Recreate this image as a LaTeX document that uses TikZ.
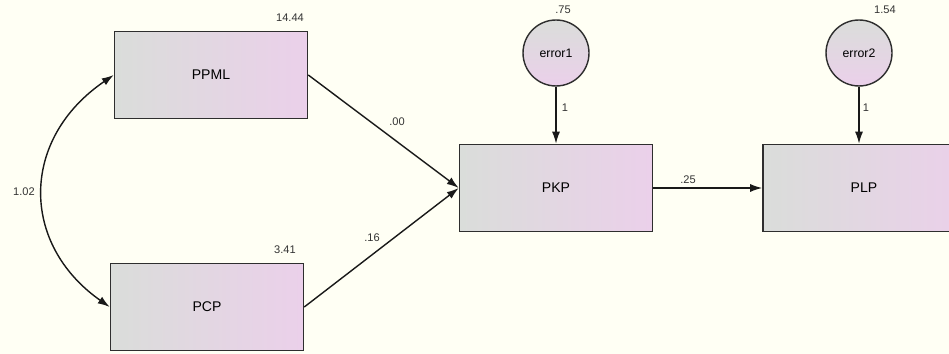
\documentclass[tikz,border=0pt]{standalone}
\usepackage{fontspec}
\setmainfont{Liberation Sans}
\usetikzlibrary{arrows.meta}
\definecolor{fondo}{HTML}{FFFFF4}
\definecolor{gris}{HTML}{DADDDA}
\definecolor{rosa}{HTML}{EBD0EA}
\definecolor{borde}{HTML}{2E2E2E}
\tikzset{
  caja/.style={draw=borde, line width=0.9pt, left color=gris, right color=rosa,
    minimum width=3.86cm, minimum height=1.74cm, font=\fontsize{8}{9}\selectfont},
  error/.style={circle, draw=borde, line width=0.8pt, top color=gris, bottom color=rosa,
    minimum size=1.32cm, inner sep=0pt, font=\fontsize{7}{8}\selectfont},
  valor/.style={font=\fontsize{6.3}{7}\selectfont, text=black!80},
  flecha/.style={-{Latex[length=0.24cm, width=0.16cm]}, line width=0.8pt, draw=black!90}
}
\begin{document}
\begin{tikzpicture}[x=0.02cm, y=0.02cm]
    % Fondo
    \fill[fondo] (0,0) rectangle (949,354);
    \clip (0,0) rectangle (949,354);

    % Variables observadas
    \node[caja] (ppml) at (211,279) {PPML};
    \node[caja] (pcp) at (207,47) {PCP};
    \node[caja] (pkp) at (556,166) {PKP};
    \node[caja, minimum width=4.04cm] (plp) at (864,166) {PLP};

    % Errores
    \node[error] (e1) at (556,301) {error1};
    \node[error] (e2) at (859,301) {error2};

    % Varianzas
    \node[valor] (v1) at (290,336) {14.44};
    \node[valor] (v2) at (285,104) {3.41};
    \node[valor] (v3) at (563,344) {.75};
    \node[valor] (v4) at (885,344) {1.54};

    % Covarianza
    \draw[flecha, {Latex[length=0.24cm, width=0.16cm]}-{Latex[length=0.24cm, width=0.16cm]}]
      (ppml.west) .. controls (20,215) and (20,110) .. (pcp.west);
    \node[valor] (c1) at (24,162) {1.02};

    % Regresiones
    \draw[flecha] (ppml.east) -- (pkp.west);
    \draw[flecha] (pcp.east) -- (pkp.west);
    \draw[flecha] (pkp.east) -- (plp.west);
    \draw[flecha] (e1) -- (pkp);
    \draw[flecha] (e2) -- (plp.north -| e2);
    \node[valor] (r1) at (397,232) {.00};
    \node[valor] (r2) at (372,116) {.16};
    \node[valor] (r3) at (688,174) {.25};
    \node[valor] (r4) at (565,246) {1};
    \node[valor] (r5) at (866,246) {1};
\end{tikzpicture}
\end{document}
